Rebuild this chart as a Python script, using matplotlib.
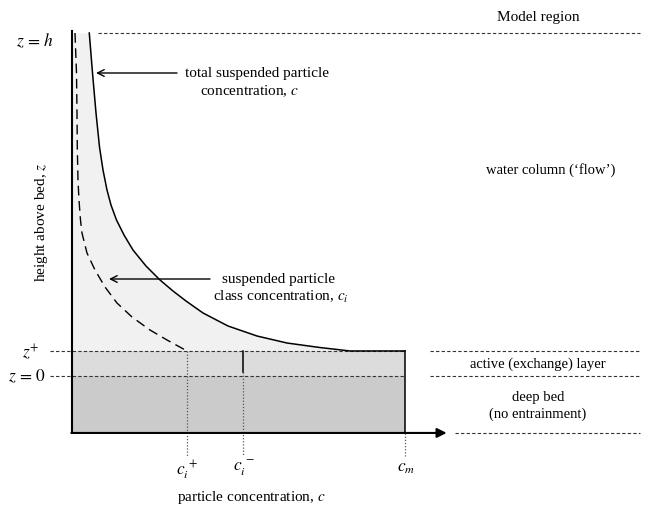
import matplotlib
matplotlib.use("Agg")
import matplotlib.pyplot as plt

plt.rcParams['font.family'] = ['Liberation Serif', 'DejaVu Serif']
plt.rcParams['mathtext.fontset'] = 'stix'

# ---- data (diagram units: c_m = 1, h = 1) ----
c_total = [0.0519, 0.0616, 0.0721, 0.0826, 0.0931, 0.1051, 0.1171, 0.1336, 0.1562,
           0.1832, 0.2222, 0.2643, 0.3033, 0.3423, 0.3934, 0.4685, 0.5556, 0.6456,
           0.7447, 0.8348, 1.0000]
z_total = [1.0000, 0.8834, 0.7668, 0.6676, 0.6006, 0.5423, 0.4985, 0.4548, 0.4111,
           0.3673, 0.3207, 0.2799, 0.2478, 0.2187, 0.1837, 0.1458, 0.1166, 0.0962,
           0.0830, 0.0730, 0.0730]
c_class = [0.0090, 0.0135, 0.0150, 0.0159, 0.0180, 0.0210, 0.0255, 0.0300, 0.0450,
           0.0691, 0.0991, 0.1351, 0.1802, 0.2342, 0.2853, 0.3453]
z_class = [1.0000, 0.8834, 0.7668, 0.6676, 0.5714, 0.5131, 0.4548, 0.4169, 0.3586,
           0.3090, 0.2595, 0.2128, 0.1720, 0.1341, 0.1050, 0.0730]
c_ip, c_im, c_m = 0.345, 0.514, 1.0
z_plus, z_h, z_0, z_bot = 0.073, 1.0, 0.0, -0.166

W, H = 646, 507
fig = plt.figure(figsize=(W / 100, H / 100), dpi=100)
ax = fig.add_axes([0, 0, 1, 1])
ax.set_xlim(-0.2162, 1.7237)
ax.set_ylim(-0.3819, 1.0962)
ax.axis('off')

# shaded regions
ax.fill_betweenx(z_total, 0, c_total, color='#f1f1f1', lw=0, zorder=1)
ax.fill_between([0, c_m], z_0, z_plus, color='#dcdcdc', lw=0, zorder=1)
ax.fill_between([0, c_m], z_bot, z_0, color='#cbcbcb', lw=0, zorder=1)

# curves
ax.plot(c_total, z_total, color='black', lw=1.1, zorder=4, solid_joinstyle='round')
ax.plot(c_class, z_class, color='black', lw=1.0, dashes=(7, 4), zorder=4)
ax.plot([c_m, c_m], [z_plus, z_bot], color='black', lw=1.1, zorder=4)

# axes
ax.plot([0, 0], [z_bot, z_h + 0.005], color='black', lw=1.5, zorder=5)
ax.annotate('', xy=(1.125, z_bot), xytext=(-0.002, z_bot),
            arrowprops=dict(arrowstyle='-|>', lw=1.5, color='black',
                            mutation_scale=14, shrinkA=0, shrinkB=0), zorder=5)

# dashed horizontal guides
dkw = dict(color='#333333', lw=0.8, dashes=(3, 2), zorder=3)
ax.plot([0.078, 1.706], [z_h, z_h], **dkw)
ax.plot([-0.066, c_m], [z_plus, z_plus], **dkw)
ax.plot([-0.066, c_m], [z_0, z_0], **dkw)
ax.plot([1.075, 1.706], [z_plus, z_plus], **dkw)
ax.plot([1.075, 1.706], [z_0, z_0], **dkw)
ax.plot([1.150, 1.706], [z_bot, z_bot], **dkw)

# vertical markers
vkw = dict(color='#555555', lw=0.9, linestyle=(0, (1, 1.5)), zorder=3)
z_tick_end = (376 - 456) / 343
ax.plot([c_ip, c_ip], [z_plus, z_tick_end], **vkw)
ax.plot([c_im, c_im], [z_0 + 0.012, z_tick_end], **vkw)
ax.plot([c_im, c_im], [z_plus, z_0 + 0.012], color='black', lw=1.1, zorder=4)
ax.plot([c_m, c_m], [z_bot, z_tick_end], **vkw)

def ft(px, py, s, **kw):
    kw.setdefault('fontsize', 11)
    kw.setdefault('ha', 'center')
    kw.setdefault('va', 'center')
    fig.text(px / W, 1 - py / H, s, **kw)

# left labels
ft(35, 41, r'$z\,=\,h$', fontsize=12.5)
ft(31, 352, r'$z^{+}$', fontsize=12.5)
ft(27, 377, r'$z\,=\,0$', fontsize=12.5)
ft(42, 222, r'height above bed, $z$', fontsize=11, rotation=90)

# bottom labels
ft(187, 470, r'$c_i^{\,+}$', fontsize=12.5)
ft(244, 468, r'$c_i^{\,-}$', fontsize=12.5)
ft(406, 468, r'$c_m$', fontsize=12.5)
ft(251, 497, r'particle concentration, $c$', fontsize=11)

# right labels
ft(538, 17, 'Model region', fontsize=11)
ft(551, 170, 'water column (\u2018flow\u2019)', fontsize=10.5)
ft(538, 364, 'active (exchange) layer', fontsize=10.5)
ft(538, 398, 'deep bed', fontsize=10.5)
ft(538, 414, '(no entrainment)', fontsize=10.5)

# annotations
ft(257, 73, 'total suspended particle', fontsize=11)
ft(250, 91, r'concentration, $c$', fontsize=11)
ft(279, 279, 'suspended particle', fontsize=11)
ft(281, 297, r'class concentration, $c_i$', fontsize=11)

akw = dict(arrowstyle='->', lw=1.0, color='black', mutation_scale=12,
           shrinkA=0, shrinkB=0)
ax.annotate('', xy=(96 / W, 1 - 73 / H), xytext=(177 / W, 1 - 73 / H),
            xycoords='figure fraction', textcoords='figure fraction',
            arrowprops=akw)
ax.annotate('', xy=(109 / W, 1 - 279 / H), xytext=(210 / W, 1 - 279 / H),
            xycoords='figure fraction', textcoords='figure fraction',
            arrowprops=akw)

fig.savefig('out.png', dpi=100)
